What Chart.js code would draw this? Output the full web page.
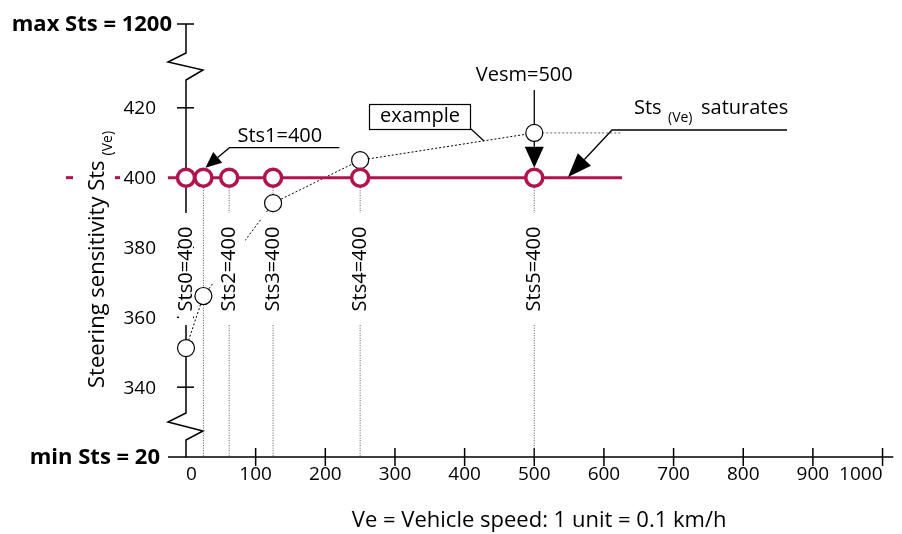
<!DOCTYPE html>
<html>
<head>
<meta charset="utf-8">
<script src="https://cdn.jsdelivr.net/npm/chart.js@4.4.1/dist/chart.umd.min.js"></script>
<style>
  html, body { margin: 0; padding: 0; background: #fff; }
</style>
</head>
<body>
<canvas id="stsChart" width="902" height="534"></canvas>
<script>
// steering sensitivity steps and the vehicle speed each one is set at
const stepLabels = ['Sts0=400', 'Sts1=400', 'Sts2=400', 'Sts3=400', 'Sts4=400', 'Sts5=400'];
const stepVe = [0, 25, 62, 125, 250, 500];
const stepSts = [400, 400, 400, 400, 400, 400];
// the constant line runs a bit past the first and last step
const lineEndsVe = [-26, 626];

// "example" curve, saturating after Vesm
const exampleVe = [0, 25, 125, 250, 500, 625];
const exampleSts = [351.2, 366.1, 392.7, 405.0, 412.8, 412.8];

const xTicks = [0, 100, 200, 300, 400, 500, 600, 700, 800, 900, 1000];
const yTicks = [320, 340, 360, 380, 400, 420, 444];
const yTickLabels = ['min Sts = 20', '340', '360', '380', '400', '420', 'max Sts = 1200'];

const crimson = 'rgb(176, 20, 80)';
const family = '"Open Sans", sans-serif';

const stepPoints = stepVe.map((v, i) => ({ x: v, y: stepSts[i] }));
const redLine = [{ x: lineEndsVe[0], y: stepSts[0] }]
    .concat(stepPoints)
    .concat([{ x: lineEndsVe[1], y: stepSts[stepSts.length - 1] }]);
const examplePoints = exampleVe.map((v, i) => ({ x: v, y: exampleSts[i] }));

// dotted drop lines from each step down to the speed axis
const dropLines = stepVe.slice(1).map(v => ({
    data: [{ x: v, y: 400 }, { x: v, y: yTicks[0] }],
    borderColor: '#555',
    borderWidth: 1,
    borderDash: [1, 1.5],
    pointRadius: 0,
    clip: false
}));

function arrow(ctx, pts, headLen, headW) {
    const n = pts.length;
    const [tx, ty] = pts[n - 1];
    const [fx, fy] = pts[n - 2];
    const ang = Math.atan2(ty - fy, tx - fx);
    const bx = tx - Math.cos(ang) * headLen, by = ty - Math.sin(ang) * headLen;
    ctx.beginPath();
    ctx.moveTo(pts[0][0], pts[0][1]);
    for (let i = 1; i < n - 1; i++) ctx.lineTo(pts[i][0], pts[i][1]);
    ctx.lineTo(bx, by);
    ctx.stroke();
    ctx.beginPath();
    ctx.moveTo(tx, ty);
    ctx.lineTo(bx + Math.sin(ang) * headW / 2, by - Math.cos(ang) * headW / 2);
    ctx.lineTo(bx - Math.sin(ang) * headW / 2, by + Math.cos(ang) * headW / 2);
    ctx.closePath();
    ctx.fill();
}

const figurePlugin = {
    id: 'figure',
    beforeDatasetsDraw(chart) {
        const ctx = chart.ctx;
        const xs = chart.scales.x, ys = chart.scales.y;
        const left = chart.chartArea.left, top = chart.chartArea.top, bottom = chart.chartArea.bottom;
        ctx.save();
        ctx.strokeStyle = '#000';
        ctx.fillStyle = '#000';
        ctx.lineWidth = 1.5;

        // broken y axis
        ctx.beginPath();
        ctx.moveTo(left, top);
        ctx.lineTo(left, top + 29);
        ctx.lineTo(left - 18, top + 38);
        ctx.lineTo(left + 17, top + 46);
        ctx.lineTo(left, top + 56);
        ctx.lineTo(left, bottom - 44);
        ctx.lineTo(left - 18, bottom - 35);
        ctx.lineTo(left + 17, bottom - 26);
        ctx.lineTo(left, bottom - 17);
        ctx.lineTo(left, bottom);
        ctx.lineTo(xs.getPixelForValue(xs.max) + 1, bottom);
        ctx.stroke();

        // y tick marks and labels
        ys.ticks.forEach((t, i) => {
            const y = ys.getPixelForValue(t.value);
            const bold = i === 0 || i === ys.ticks.length - 1;
            ctx.beginPath();
            ctx.moveTo(left - (i === 0 ? 18 : 9), y);
            ctx.lineTo(i === 0 ? left : left + 8, y);
            ctx.stroke();
            ctx.font = (bold ? 'bold 22px ' : '19px ') + family;
            ctx.textAlign = 'right';
            ctx.textBaseline = 'middle';
            const off = i === 0 ? 26 : (bold ? 14 : 30);
            ctx.fillText(yTickLabels[i], left - off, y + 1);
        });

        // x tick marks cross the axis
        xs.ticks.forEach(t => {
            if (t.value === 0) return;
            const x = xs.getPixelForValue(t.value);
            ctx.beginPath();
            ctx.moveTo(x, bottom - 9);
            ctx.lineTo(x, bottom + 9);
            ctx.stroke();
        });

        // crimson dashes leading to the 400 label
        const y400 = ys.getPixelForValue(400);
        ctx.fillStyle = crimson;
        ctx.fillRect(66, y400 - 1.5, 7, 3);
        ctx.fillRect(115, y400 - 1.5, 5, 3);

        // y title with subscript
        ctx.fillStyle = '#000';
        ctx.translate(104, 388);
        ctx.rotate(-Math.PI / 2);
        ctx.textAlign = 'left';
        ctx.textBaseline = 'alphabetic';
        ctx.font = '22px ' + family;
        const main = 'Steering sensitivity Sts';
        ctx.fillText(main, 0, 0);
        const w = ctx.measureText(main).width;
        ctx.font = '14px ' + family;
        ctx.fillText('(Ve)', w + 5, 8);
        ctx.restore();
    },
    afterDatasetsDraw(chart) {
        const ctx = chart.ctx;
        const xs = chart.scales.x, ys = chart.scales.y;
        const px = v => xs.getPixelForValue(v);
        const py = v => ys.getPixelForValue(v);
        ctx.save();

        // rotated step labels on white boxes
        const boxHalf = [7, 0, 16, 12, 12, 12];
        stepLabels.forEach((lab, i) => {
            if (i === 1) return;
            const x = px(stepVe[i]);
            ctx.fillStyle = '#fff';
            ctx.fillRect(x - boxHalf[i], 213, boxHalf[i] * 2, 112);
            ctx.save();
            ctx.translate(x, 269);
            ctx.rotate(-Math.PI / 2);
            ctx.fillStyle = '#000';
            ctx.font = '20px ' + family;
            ctx.textAlign = 'center';
            ctx.textBaseline = 'middle';
            ctx.fillText(lab, 0, 0);
            ctx.restore();
        });

        ctx.strokeStyle = '#000';
        ctx.fillStyle = '#000';
        ctx.lineWidth = 1.3;
        const y400 = py(400);

        // Sts1 callout
        const x1 = px(stepVe[1]);
        ctx.font = '20px ' + family;
        ctx.textAlign = 'left';
        ctx.textBaseline = 'middle';
        ctx.fillText(stepLabels[1], x1 + 34, y400 - 41);
        arrow(ctx, [[x1 + 136, y400 - 30], [x1 + 26, y400 - 30], [x1 + 2, y400 - 10]], 16, 14);

        // example box
        ctx.lineWidth = 1.2;
        ctx.strokeRect(369.5, 104.5, 101, 25);
        ctx.textAlign = 'center';
        ctx.fillText('example', 420, 116);
        ctx.beginPath();
        ctx.moveTo(471, 129);
        ctx.lineTo(484, 141);
        ctx.stroke();

        // Vesm callout
        const x5 = px(stepVe[5]);
        const yEx = py(exampleSts[4]);
        ctx.lineWidth = 1.3;
        ctx.fillText('Vesm=500', x5 - 10, 75);
        ctx.beginPath();
        ctx.moveTo(x5, 90);
        ctx.lineTo(x5, yEx - 9);
        ctx.stroke();
        arrow(ctx, [[x5, yEx + 9], [x5, y400 - 10]], 21, 19);

        // saturation callout
        ctx.textAlign = 'left';
        ctx.textBaseline = 'alphabetic';
        ctx.font = '20px ' + family;
        ctx.fillText('Sts', 634, 114);
        ctx.font = '14px ' + family;
        ctx.fillText('(Ve)', 668, 122);
        ctx.font = '20px ' + family;
        ctx.fillText('saturates', 701, 114);
        arrow(ctx, [[787, 130], [612, 130], [568, 177]], 24, 18);

        ctx.restore();
    }
};

new Chart(document.getElementById('stsChart').getContext('2d'), {
    type: 'line',
    data: {
        datasets: [
            {
                label: 'Sts',
                data: redLine,
                borderColor: crimson,
                borderWidth: 3,
                pointRadius: redLine.map((p, i) => (i === 0 || i === redLine.length - 1) ? 0 : 8.5),
                pointBorderWidth: 3.5,
                pointBackgroundColor: '#fff',
                pointBorderColor: crimson,
                clip: false
            },
            {
                label: 'example',
                data: examplePoints,
                borderColor: '#000',
                borderWidth: 1,
                borderDash: [2, 2],
                segment: { borderColor: c => c.p1DataIndex === examplePoints.length - 1 ? '#666' : '#000' },
                pointRadius: examplePoints.map((p, i) => i === examplePoints.length - 1 ? 0 : 8.5),
                pointBorderWidth: 1.2,
                pointBackgroundColor: '#fff',
                pointBorderColor: '#000',
                clip: false
            }
        ].concat(dropLines)
    },
    options: {
        responsive: false,
        animation: false,
        layout: { padding: { top: 24, right: 6, left: 0, bottom: 0 } },
        plugins: { legend: { display: false }, tooltip: { enabled: false } },
        scales: {
            x: {
                type: 'linear',
                min: 0,
                max: 1014,
                afterFit: s => { s.height = 77; s.paddingLeft = 0; s.paddingRight = 0; },
                afterBuildTicks: s => { s.ticks = xTicks.map(v => ({ value: v })); },
                grid: { display: false, drawTicks: false },
                border: { display: false },
                ticks: {
                    color: '#000',
                    font: { family: family, size: 19 },
                    padding: 6,
                    align: 'inner',
                    autoSkip: false,
                    maxRotation: 0,
                    callback: v => String(v)
                },
                title: {
                    display: true,
                    text: 'Ve = Vehicle speed: 1 unit = 0.1 km/h',
                    color: '#000',
                    font: { family: family, size: 22 },
                    padding: { top: 0, bottom: 0 }
                }
            },
            y: {
                type: 'linear',
                min: yTicks[0],
                max: yTicks[yTicks.length - 1],
                afterFit: s => { s.width = 186; s.paddingTop = 0; s.paddingBottom = 0; },
                afterBuildTicks: s => { s.ticks = yTicks.map(v => ({ value: v })); },
                grid: { display: false },
                border: { display: false },
                ticks: { display: false }
            }
        }
    },
    plugins: [figurePlugin]
});
</script>
</body>
</html>
